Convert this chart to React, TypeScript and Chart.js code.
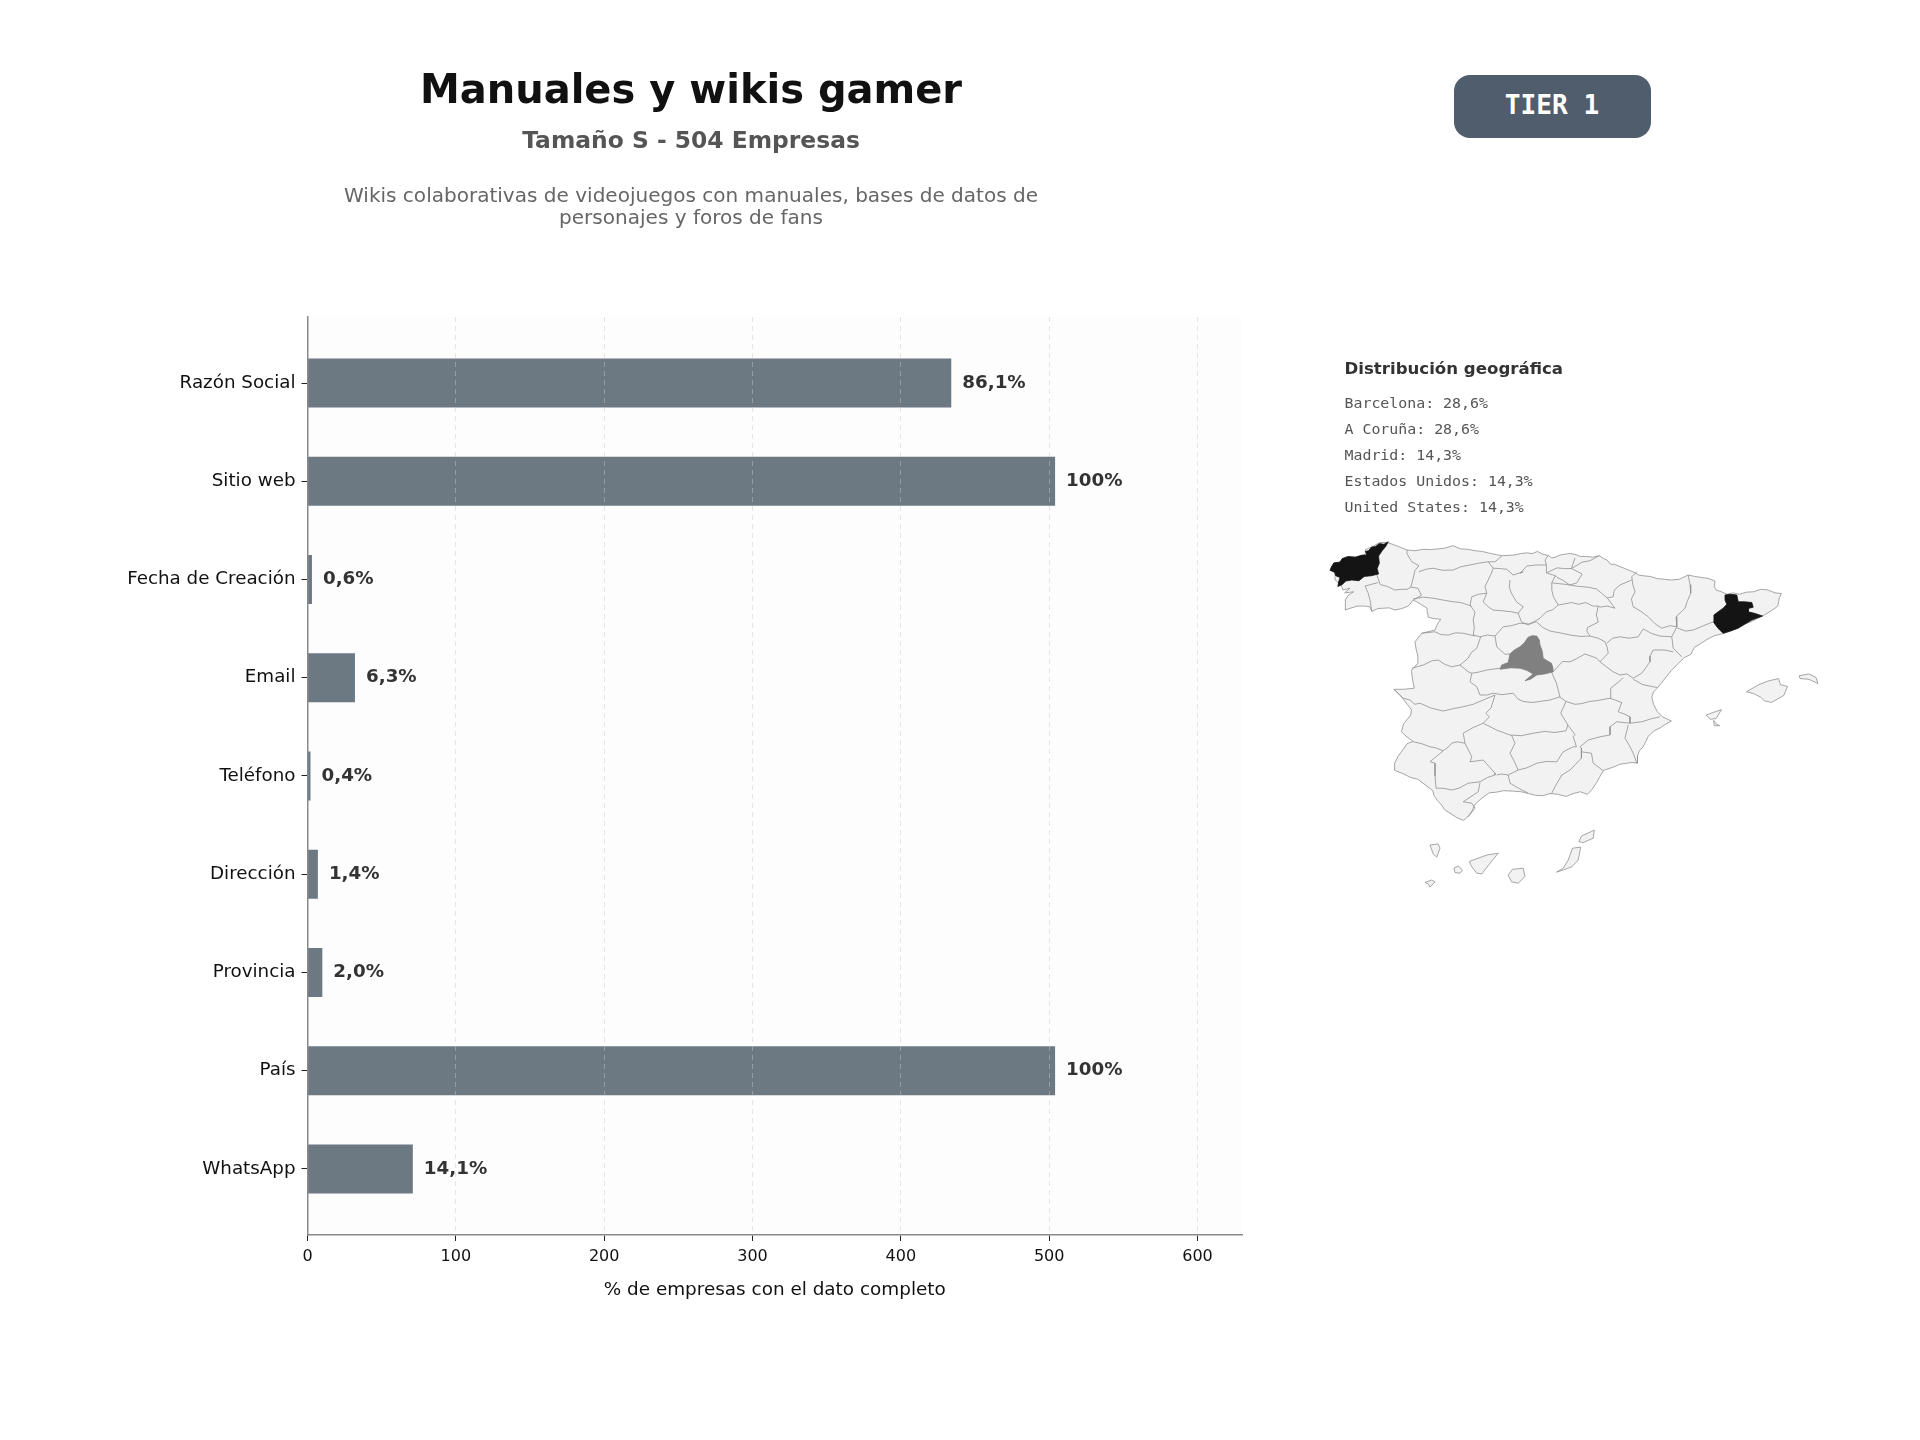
import React, { useEffect, useRef } from "react";
import { Chart, registerables } from "chart.js";

Chart.register(...registerables);

const SANS = '"DejaVu Sans", sans-serif';
const MONO = '"DejaVu Sans Mono", monospace';

const categories = ["Razón Social", "Sitio web", "Fecha de Creación", "Email", "Teléfono", "Dirección", "Provincia", "País", "WhatsApp"];
const companies = [434, 504, 3, 32, 2, 7, 10, 504, 71];
const barLabels = ["86,1%", "100%", "0,6%", "6,3%", "0,4%", "1,4%", "2,0%", "100%", "14,1%"];
const xTicks = [0, 100, 200, 300, 400, 500, 600];
const geoLines = ["Barcelona: 28,6%", "A Coruña: 28,6%", "Madrid: 14,3%", "Estados Unidos: 14,3%", "United States: 14,3%"];

// Map geometry, in map units (flat x,y lists)
const mainland = [245,567,262,573,280,580,300,588,322,590,345,586,365,587,385,585,405,583,428,576,450,585,470,586,490,590,510,592,530,597,565,604,585,603,600,602,618,598,635,596,650,598,665,592,680,600,695,603,705,610,715,608,728,602,740,600,755,598,770,600,785,606,800,606,820,608,838,604,850,612,860,616,870,628,880,628,905,638,922,645,935,650,948,658,960,660,980,662,1000,668,1020,670,1040,672,1062,670,1087,658,1105,662,1125,665,1145,668,1162,675,1160,690,1165,700,1180,705,1195,712,1212,708,1230,712,1250,706,1270,705,1290,698,1310,700,1330,708,1348,710,1342,722,1338,745,1320,758,1300,770,1280,780,1260,790,1245,795,1225,805,1205,815,1185,822,1160,828,1140,838,1122,850,1105,860,1098,872,1095,880,1075,890,1060,905,1040,925,1020,950,1000,975,990,985,985,1000,990,1020,1000,1040,1015,1055,1040,1067,1025,1075,1010,1085,990,1095,975,1110,968,1125,960,1140,950,1150,945,1165,945,1185,930,1183,915,1185,895,1188,880,1195,850,1205,840,1222,830,1240,818,1258,805,1272,785,1265,765,1270,745,1278,722,1272,700,1270,680,1276,660,1275,640,1270,620,1265,595,1263,570,1262,550,1266,530,1268,510,1282,490,1300,482,1318,470,1335,458,1345,440,1338,420,1325,405,1315,395,1300,385,1290,375,1275,372,1262,350,1245,330,1230,310,1225,290,1215,265,1205,265,1185,275,1165,290,1145,300,1130,317,1124,300,1112,284,1097,290,1075,310,1050,312,1035,300,1020,285,1000,263,978,290,978,320,975,315,950,312,925,330,905,330,885,325,865,322,845,341,821,378,812,385,795,394,782,375,780,359,776,358,765,356,751,335,738,317,728,303,745,285,752,266,756,250,750,233,751,218,752,201,760,196,747,180,745,160,745,126,756,128,740,126,728,135,715,150,705,125,708,140,695,120,700,117,691,100,672,98,653,86,642,103,625,131,611,159,607,187,599,182,588,205,577,224,567];
const coruna = [247,565,235,572,222,570,212,578,200,580,192,590,183,592,187,602,172,603,155,608,135,606,118,612,112,622,95,624,88,635,84,645,97,650,100,660,112,665,108,678,106,690,118,685,128,675,145,672,165,674,180,662,200,660,220,655,216,640,222,625,220,605,230,590,240,578];
const barcelona = [1190,714,1205,712,1223,714,1227,733,1245,733,1265,735,1269,748,1255,752,1255,761,1275,766,1295,773,1265,784,1245,796,1227,807,1205,815,1185,821,1175,812,1167,803,1158,790,1159,770,1172,760,1185,751,1195,740,1190,728];
const madrid = [663,829,650,828,639,832,628,848,616,859,600,868,588,879,583,903,565,910,560,922,590,918,616,919,635,925,653,935,630,954,645,950,663,938,685,935,709,929,708,917,704,905,692,898,681,891,678,870,672,854,670,840];
const provinceBorders = [
  [300,588,299,597,313,621,333,632,322,645,317,667,310,692],
  [333,649,352,642,373,639,400,645,429,644,450,635,476,630,500,625,527,621,546,621,565,605],
  [215,658,225,685,245,690,265,700,285,698,300,698,310,692,330,695,340,715,317,728],
  [182,689,191,709,196,728,201,760],
  [182,689,219,679],
  [317,725,345,720,373,723,400,728,429,733,450,735,471,742,480,745],
  [527,621,541,639,535,655,527,672,518,690,523,709,500,712,481,719,476,742],
  [541,639,560,640,579,642,597,658,625,649,616,653,635,633,660,630,690,630,686,616,695,603],
  [588,672,586,692,592,709,606,733,625,747,611,765],
  [523,709,513,733,528,748,541,756,565,758,592,761,611,765],
  [476,742,490,762,485,784,488,805,485,826,504,831,525,826,546,829,569,803,592,800,616,793,640,795,662,789],
  [611,765,620,789,639,798,672,779,690,761,708,755,723,742,710,720,705,700,705,680,715,660,690,652,690,630],
  [690,652,720,638,740,640,760,640,790,655,775,680,755,686,735,672,720,665,715,660],
  [760,640,770,610],
  [760,640,790,622,812,618,838,604],
  [705,680,750,685,780,690,805,692,830,697,860,722,877,719,880,700,896,686,929,672],
  [723,742,745,738,760,735,780,740,800,735,820,745,835,745,830,770,835,790,805,805,803,815,812,829,835,835,854,845,860,860,863,877,840,901],
  [860,722,882,751,860,745,840,748,835,745],
  [943,649,929,663,932,685,938,705,928,725,933,747,955,760,975,775,995,795,1013,807,1035,800,1055,803],
  [1087,658,1092,685,1094,709,1085,730,1078,751,1053,775,1055,803,1041,831,1045,863,1060,878,1069,887],
  [1055,806,1080,815,1101,812,1130,800,1157,789],
  [859,849,875,835,896,831,922,835,947,831,961,809,985,822,1008,829,1041,831],
  [989,868,980,885,980,901,968,918,957,933,933,947,915,935,896,938,877,929,858,915,840,901,831,891,798,879,775,892,756,901,735,900,709,929],
  [989,868,1020,868,1045,873],
  [933,950,960,965,989,971,1000,973],
  [662,789,680,805,700,815,728,820,756,826,785,830,812,829],
  [546,829,551,859,574,880,588,879],
  [506,831,495,863,480,875,471,891,448,910,471,929,481,933,500,930,523,924,560,919],
  [341,821,378,817,395,825,415,826,435,820,457,821,490,829],
  [313,919,345,910,370,898,387,896,405,908,425,915,448,910],
  [481,933,476,957,495,971,504,994,523,994,541,989,565,993,597,989,610,1005,625,1012,650,1015,672,1012,700,1008,728,999,718,961,704,929],
  [263,978,289,1003,308,1008,322,1020,336,1017,365,1030,401,1039,430,1032,457,1027,485,1020,513,1008,546,994,535,1030,520,1045,530,1055,513,1073,485,1085,457,1101,462,1129,440,1125,425,1129,415,1140,401,1150,380,1142,364,1139,340,1130,317,1125],
  [726,999,745,1012,730,1045,750,1078,745,1094,714,1099,685,1096,653,1101,620,1108,588,1106,550,1092,513,1073],
  [745,1012,770,1020,790,1018,810,1012,830,1010,868,1003,870,975,895,955,905,945],
  [868,1003,901,1015,891,1041,910,1048,924,1055,924,1073,957,1069,985,1060,1008,1055],
  [924,1073,887,1069,868,1083,868,1106,840,1111,807,1120,784,1139,788,1143],
  [919,1078,910,1115,922,1135,933,1157,943,1185],
  [750,1078,770,1105,765,1111,774,1139,765,1139,737,1153,719,1181,690,1180,663,1185,635,1198,611,1204,600,1180,588,1157,602,1129,592,1106],
  [788,1143,788,1171,756,1204,733,1218,714,1251,705,1269],
  [788,1153,816,1157,821,1185,849,1206],
  [611,1204,583,1218,588,1241,612,1255,639,1269],
  [551,1218,565,1215,583,1218],
  [462,1129,481,1167,476,1181,513,1176,530,1195,546,1213,546,1218,525,1225,504,1237,471,1241,445,1255,425,1260,400,1255,381,1255],
  [401,1150,364,1181,378,1185,378,1220,381,1255],
  [504,1240,499,1265,457,1293,481,1297,490,1311,471,1335],
];
const islands = [
  [1250,985,1285,965,1310,955,1340,948,1345,965,1365,970,1355,995,1320,1015,1300,1010,1290,1000,1270,990],
  [1398,940,1425,935,1445,945,1450,962,1425,950,1400,948],
  [1137,1050,1165,1040,1180,1035,1165,1060,1148,1062],
  [1158,1065,1165,1075,1175,1080,1160,1080],
  [364,1414,387,1411,392,1423,383,1448,373,1439],
  [474,1460,523,1442,555,1437,532,1465,509,1495,495,1493,481,1475],
  [431,1479,443,1473,455,1484,448,1493,434,1491],
  [350,1519,369,1512,378,1517,364,1532,359,1523],
  [595,1482,625,1479,630,1502,611,1521,592,1517,583,1498],
  [763,1423,786,1420,779,1456,761,1475,737,1484,718,1490,737,1479,751,1456],
  [788,1389,814,1377,824,1372,821,1395,793,1407,781,1405],
];

const toPoints = (flat: number[], close = false) => {
  const pts: { x: number; y: number }[] = [];
  for (let i = 0; i + 1 < flat.length; i += 2) pts.push({ x: flat[i], y: flat[i + 1] });
  if (close) pts.push({ ...pts[0] });
  return pts;
};

function Label({ x, y, text, style }: { x: number; y: number; text: string; style: React.CSSProperties }) {
  return (
    <div style={{ position: "absolute", left: x, top: y, transform: "translate(-50%,-50%)", whiteSpace: "nowrap", ...style }}>{text}</div>
  );
}

function LeftLabel({ x, y, text, style }: { x: number; y: number; text: string; style: React.CSSProperties }) {
  return (
    <div style={{ position: "absolute", left: x, top: y, transform: "translateY(-50%)", whiteSpace: "nowrap", ...style }}>{text}</div>
  );
}

export default function App() {
  const barRef = useRef<HTMLCanvasElement>(null);
  const mapRef = useRef<HTMLCanvasElement>(null);

  useEffect(() => {
    const bgPlugin = {
      id: "plotBg",
      beforeDraw(c: any) {
        const { ctx, chartArea: a } = c;
        ctx.save();
        ctx.fillStyle = "#fdfdfd";
        ctx.fillRect(a.left, a.top, a.right - a.left, a.bottom - a.top);
        ctx.restore();
      },
    };
    const labelPlugin = {
      id: "barText",
      afterDatasetsDraw(c: any) {
        const { ctx, scales } = c;
        ctx.save();
        ctx.font = `bold 18.3px ${SANS}`;
        ctx.fillStyle = "#333333";
        ctx.textAlign = "left";
        ctx.textBaseline = "middle";
        barLabels.forEach((t, i) => {
          ctx.fillText(t, scales.x.getPixelForValue(companies[i]) + 11, scales.y.getPixelForValue(i));
        });
        ctx.restore();
      },
    };
    const bar = new Chart(barRef.current!, {
      type: "bar",
      plugins: [bgPlugin, labelPlugin],
      data: {
        datasets: [
          {
            data: companies.map((v, i) => ({ x: v, y: i })) as any,
            backgroundColor: "#6c7983",
            barPercentage: 0.5,
            categoryPercentage: 1,
          },
        ],
      },
      options: {
        indexAxis: "y",
        responsive: false,
        maintainAspectRatio: false,
        animation: false,
        layout: { padding: { left: 0, top: 317, right: 678, bottom: 138.5 } },
        plugins: { legend: { display: false }, tooltip: { enabled: false } },
        scales: {
          x: {
            type: "linear",
            min: 0,
            max: 630,
            afterBuildTicks: (s: any) => { s.ticks = xTicks.map((value) => ({ value })); },
            afterFit: (s: any) => { s.height = 66.5; },
            ticks: { color: "#111111", font: { family: SANS, size: 16 }, padding: 6, maxRotation: 0 },
            grid: {
              z: 1,
              color: (c: any) => (c.tick && c.tick.value === 0 ? "transparent" : "rgba(200,200,200,0.45)"),
              lineWidth: 1,
              tickColor: "#222222",
              tickLength: 6,
            },
            border: { display: true, color: "#8a8a8a", width: 1.5, dash: [5, 4], z: 1 },
            title: { display: true, text: "% de empresas con el dato completo", color: "#111111", font: { family: SANS, size: 18.4 }, padding: 0 },
          },
          y: {
            type: "linear",
            reverse: true,
            offset: false,
            min: -0.672,
            max: 8.672,
            afterBuildTicks: (s: any) => { s.ticks = categories.map((_, value) => ({ value })); },
            afterFit: (s: any) => { s.width = 307.5; },
            ticks: {
              color: "#111111",
              font: { family: SANS, size: 18.3 },
              padding: 6,
              autoSkip: false,
              callback: (v: any) => categories[v],
            },
            grid: { offset: false, drawOnChartArea: false, tickColor: "#222222", tickLength: 6 },
            border: { display: true, color: "#8a8a8a", width: 1.5, z: 1 },
          },
        },
      } as any,
    });

    const shape = (flat: number[], fillColor: string, order: number, stroke = "#909090") => ({
      data: toPoints(flat, true),
      showLine: true,
      pointRadius: 0,
      tension: 0,
      borderColor: stroke,
      borderWidth: 0.8,
      backgroundColor: fillColor,
      fill: "shape",
      order,
    });
    const map = new Chart(mapRef.current!, {
      type: "scatter",
      data: {
        datasets: [
          shape(coruna, "#141414", 1, "#141414"),
          shape(barcelona, "#141414", 1, "#141414"),
          shape(madrid, "#808080", 1, "#808080"),
          ...provinceBorders.map((b) => ({
            data: toPoints(b),
            showLine: true,
            pointRadius: 0,
            tension: 0,
            borderColor: "#909090",
            borderWidth: 0.8,
            fill: false,
            order: 2,
          })),
          shape(mainland, "#f2f2f2", 3),
          ...islands.map((p) => shape(p, "#f2f2f2", 3)),
        ] as any,
      },
      options: {
        responsive: false,
        maintainAspectRatio: false,
        animation: false,
        layout: { padding: 0 },
        plugins: { legend: { display: false }, tooltip: { enabled: false } },
        scales: {
          x: { type: "linear", display: false, min: 0, max: 1568 },
          y: { type: "linear", display: false, min: 0, max: 1568, reverse: true },
        },
      } as any,
    });
    return () => {
      bar.destroy();
      map.destroy();
    };
  }, []);

  return (
    <div style={{ position: "absolute", left: 0, top: 0, width: 1920, height: 1440, background: "#ffffff", overflow: "hidden", fontFamily: SANS }}>
      <canvas ref={barRef} width={1920} height={1440} style={{ position: "absolute", left: 0, top: 0, display: "block" }} />
      <canvas ref={mapRef} width={560} height={560} style={{ position: "absolute", left: 1300, top: 340, display: "block" }} />
      <Label x={691} y={89} text="Manuales y wikis gamer" style={{ fontWeight: 700, fontSize: 40, color: "#111111" }} />
      <Label x={691} y={140} text="Tamaño S - 504 Empresas" style={{ fontWeight: 700, fontSize: 23.4, color: "#555555" }} />
      <Label x={691} y={195} text="Wikis colaborativas de videojuegos con manuales, bases de datos de" style={{ fontSize: 20.05, color: "#666666" }} />
      <Label x={691} y={217} text="personajes y foros de fans" style={{ fontSize: 20.05, color: "#666666" }} />
      <div style={{ position: "absolute", left: 1453.5, top: 75, width: 197, height: 63, borderRadius: 16, background: "#4f5d6c" }} />
      <Label x={1552} y={105} text="TIER 1" style={{ fontFamily: MONO, fontWeight: 700, fontSize: 26.2, color: "#ffffff" }} />
      <LeftLabel x={1344.5} y={367.5} text="Distribución geográfica" style={{ fontWeight: 700, fontSize: 16.6, color: "#333333" }} />
      {geoLines.map((t, i) => (
        <LeftLabel key={t} x={1344.5} y={402.8 + i * 26} text={t} style={{ fontFamily: MONO, fontSize: 14.9, color: "#555555" }} />
      ))}
    </div>
  );
}
